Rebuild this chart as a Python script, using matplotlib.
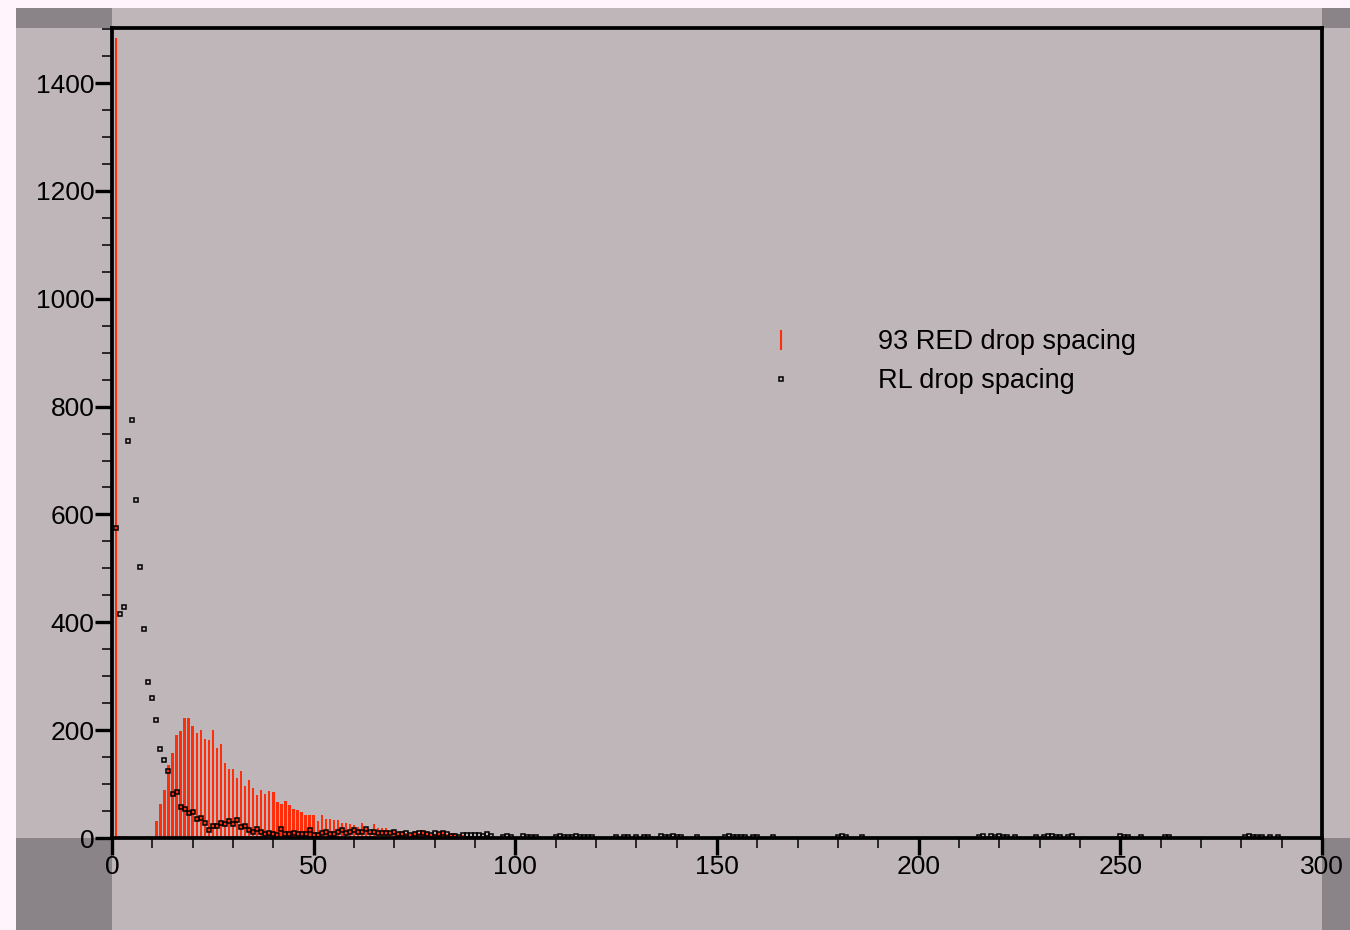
import matplotlib
matplotlib.use("Agg")
import matplotlib.pyplot as plt
from matplotlib.lines import Line2D
from matplotlib.patches import Rectangle
from matplotlib.ticker import MultipleLocator

plt.rcParams['font.family'] = ['Liberation Sans', 'DejaVu Sans']

# 93 RED drop spacing histogram (counts per unit bin)
red_x = [1, 2, 3] + list(range(11, 91)) + [94, 98, 103]
red_y = [1484, 3, 3,
         32, 63, 89, 135, 158, 191, 198, 222, 222, 208,
         195, 200, 184, 182, 200, 167, 174, 139, 128, 128,
         111, 124, 96, 108, 93, 80, 89, 82, 87, 85,
         67, 63, 69, 61, 54, 52, 48, 43, 43, 43,
         32, 43, 35, 35, 33, 33, 28, 28, 26, 24,
         20, 28, 18, 13, 26, 18, 18, 18, 13, 15,
         11, 13, 9, 7, 13, 9, 15, 13, 7, 7,
         11, 13, 7, 9, 9, 3, 5, 2, 4, 2,
         3, 2, 2]

# RL drop spacing counts
rl_x = list(range(1, 92))
rl_y = [575, 416, 428, 737, 775, 626, 502, 388, 290, 260,
        218, 165, 145, 125, 82, 85, 57, 53, 47, 49,
        36, 37, 28, 15, 23, 22, 27, 26, 32, 26,
        33, 21, 23, 15, 12, 17, 11, 7, 10, 7,
        6, 16, 7, 7, 10, 7, 7, 7, 14, 5,
        5, 10, 11, 7, 7, 11, 14, 10, 11, 14,
        11, 12, 16, 12, 11, 10, 9, 10, 9, 11,
        7, 7, 9, 5, 7, 9, 10, 7, 5, 9,
        7, 10, 7, 4, 4, 2, 5, 5, 5, 5,
        5]
rl_tail_x = [92, 93, 94, 97, 98, 99, 102, 103, 104, 105,
             110, 111, 112, 113, 114, 115, 116, 117, 118, 119,
             125, 127, 128, 130, 132, 133, 136, 137, 138, 139,
             140, 141, 145, 152, 153, 154, 155, 156, 157, 159,
             160, 164, 180, 181, 182, 186, 215, 216, 218, 219,
             220, 221, 222, 224, 229, 231, 232, 233, 234, 235,
             237, 238, 250, 251, 252, 255, 261, 262, 281, 282,
             283, 284, 285, 287, 289]
rl_tail_y = [3, 7, 3, 2, 3, 2, 3, 2, 2, 2,
             2, 3, 2, 2, 2, 3, 2, 2, 2, 2,
             2, 2, 2, 2, 2, 2, 3, 2, 2, 3,
             2, 2, 2, 2, 3, 2, 2, 2, 2, 2,
             2, 2, 2, 3, 2, 2, 2, 3, 3, 2,
             3, 2, 2, 2, 2, 2, 3, 3, 2, 2,
             2, 3, 3, 2, 2, 2, 2, 2, 2, 3,
             2, 2, 2, 2, 2]
rl_x = rl_x + rl_tail_x
rl_y = rl_y + rl_tail_y

panel = '#BFB6BA'
dark = '#8A8488'
red = '#FF2D0A'

fig = plt.figure(figsize=(13.5, 9.3), dpi=100, facecolor='#FFF4FB')
W, H = 1350.0, 930.0

# grey panel behind the plot, with darker corner blocks
fig.patches.append(Rectangle((16 / W, 0), 1334 / W, 922 / H, transform=fig.transFigure,
                             facecolor=panel, edgecolor='none', zorder=-10))
for (x0, y0, w, h) in [(16, 8, 96, 20), (16, 838, 96, 92), (1322, 8, 28, 20), (1322, 838, 28, 92)]:
    fig.patches.append(Rectangle((x0 / W, 1 - (y0 + h) / H), w / W, h / H, transform=fig.transFigure,
                                 facecolor=dark, edgecolor='none', zorder=-9))

ax = fig.add_axes([112 / W, 1 - 838 / H, 1210 / W, 810 / H])
ax.set_facecolor(panel)

ax.bar(red_x, red_y, width=0.58, color=red, linewidth=0, zorder=2)
ax.plot(rl_x, rl_y, linestyle='none', marker='s', markersize=3.2, markeredgewidth=1.1,
        markerfacecolor='none', markeredgecolor='black', zorder=3)

ax.set_xlim(0, 300)
ax.set_ylim(0, 1502)

ax.xaxis.set_major_locator(MultipleLocator(50))
ax.xaxis.set_minor_locator(MultipleLocator(10))
ax.yaxis.set_major_locator(MultipleLocator(200))
ax.yaxis.set_minor_locator(MultipleLocator(50))

for s in ax.spines.values():
    s.set_linewidth(2.7)
    s.set_color('black')
ax.tick_params(which='major', direction='out', length=12, width=2.4, labelsize=19, pad=0.5)
ax.tick_params(which='minor', direction='out', length=7, width=1.1)
ax.tick_params(axis='x', which='major', pad=0)
ax.tick_params(top=False, right=False, which='both')

handles = [
    Line2D([], [], linestyle='none', marker='|', markersize=15, markeredgewidth=1.5, color=red),
    Line2D([], [], linestyle='none', marker='s', markersize=3.2, markeredgewidth=1.1,
           markerfacecolor='none', markeredgecolor='black'),
]
ax.legend(handles, ['93 RED drop spacing', 'RL drop spacing'], loc='center left',
          bbox_to_anchor=(0.531, 0.588), frameon=False, fontsize=19.5, borderpad=0,
          borderaxespad=0, handlelength=1.95, handletextpad=2.6, labelspacing=0.48, numpoints=1)

fig.savefig('out.png', dpi=100, facecolor=fig.get_facecolor())
